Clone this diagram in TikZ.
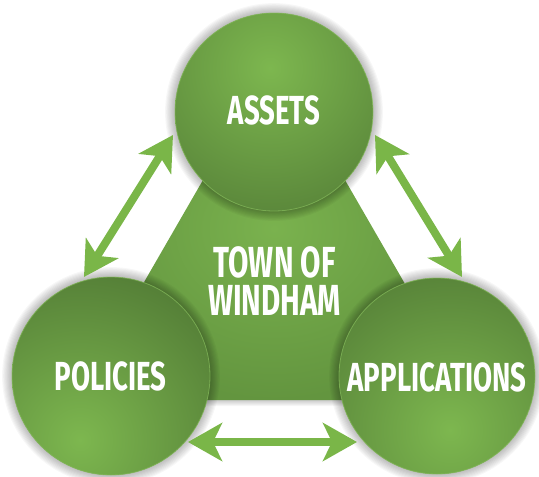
\documentclass[tikz,border=0pt]{standalone}
\usepackage{fontspec}
\newfontfamily\bebas[FakeStretch=0.68]{Fira Sans}
\usetikzlibrary{arrows.meta}
\definecolor{gLight}{HTML}{7DB74F}
\definecolor{gDark}{HTML}{4C7332}
\definecolor{triLight}{HTML}{7AB24E}
\definecolor{triDark}{HTML}{63953F}
\definecolor{arrowG}{HTML}{7AB648}
\definecolor{rimG}{HTML}{86BC5C}
\newcommand\myball[3]{%
  \foreach \k in {1,...,9} \fill[black,opacity=0.03,shift={(0,2)}] (#1) circle ({#3+\k*1.1pt});
  \begin{scope}
    \clip (#1) circle (#3);
    \fill[gDark] (#1) circle (#3);
    \shade[inner color=gLight,outer color=gDark] (#2) circle (210pt);
  \end{scope}
  \draw[rimG,line width=0.8pt,opacity=0.7] (#1) circle (#3);
}
\begin{document}
\begin{tikzpicture}[x=1pt,y=-1pt,
  lbl/.style={text=white,font=\bebas\bfseries\fontsize{40.6}{44}\selectfont,inner sep=0pt},
  biglbl/.style={lbl,font=\bebas\bfseries\fontsize{43.5}{44}\selectfont},
  link/.style={draw=arrowG,line width=8pt,
    {Stealth[length=34pt,width=38pt,inset=9pt]}-{Stealth[length=34pt,width=38pt,inset=9pt]}}
]
\useasboundingbox (0,0) rectangle (539,477);
% centre triangle
\foreach \k in {1,...,6}
  \fill[black,opacity=0.035,shift={(0,\k)}] (274,57) -- (76,400) -- (472,400) -- cycle;
\shade[inner color=triLight,outer color=triDark] (274,57) -- (76,400) -- (472,400) -- cycle;
% balls
\coordinate (cA) at (274,112);
\coordinate (cP) at (111,376);
\coordinate (cR) at (437,376);
\myball{cP}{80,440}{99pt}
\myball{cR}{450,430}{98pt}
\myball{cA}{270,68}{99pt}
% arrow ends
\coordinate (l1) at (84,277);
\coordinate (l2) at (173,135);
\coordinate (r1) at (375,135);
\coordinate (r2) at (462,277);
\coordinate (b1) at (188,442);
\coordinate (b2) at (357,442);
\draw[link] (l1) -- (l2);
\draw[link] (r1) -- (r2);
\draw[link] (b1) -- (b2);
% labels
\node[lbl] (assets) at (274,110) {ASSETS};
\node[lbl] (policies) at (110.5,376) {POLICIES};
\node[lbl] (applications) at (437,377.5) {APPLICATIONS};
\node[biglbl] (town1) at (274.5,262) {TOWN OF};
\node[biglbl] (town2) at (274.5,300.5) {WINDHAM};
\end{tikzpicture}
\end{document}
